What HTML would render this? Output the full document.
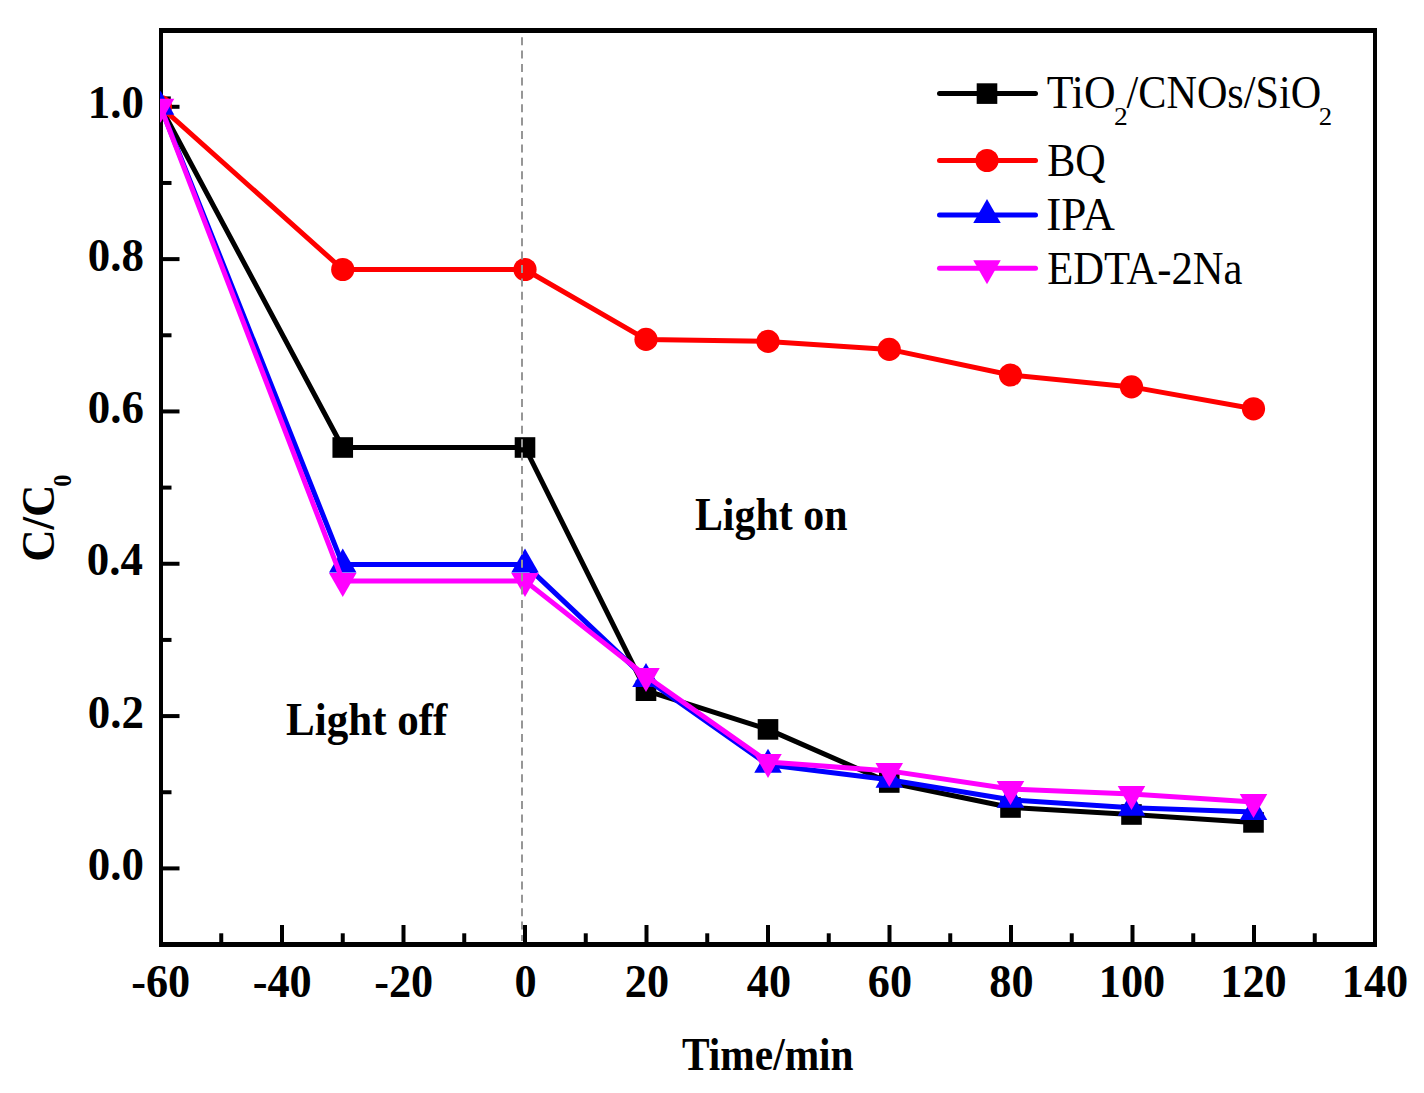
<!DOCTYPE html>
<html><head><meta charset="utf-8"><style>
html,body{margin:0;padding:0;background:#fff;overflow:hidden;}
svg{display:block;}
text{font-family:"Liberation Serif",serif;fill:#000;}
.b{font-weight:bold;}
</style></head><body>
<svg width="1424" height="1093" viewBox="0 0 1424 1093">
<defs><clipPath id="pc"><rect x="160" y="28" width="1216" height="919"/></clipPath></defs>

<g fill="#000">
<rect x="159" y="28" width="1218" height="5"/>
<rect x="159" y="942" width="1218" height="5"/>
<rect x="159" y="28" width="4" height="919"/>
<rect x="1373" y="28" width="4" height="919"/>
</g>
<g stroke="#000" stroke-width="4">
<line x1="161" y1="868.40" x2="179.5" y2="868.40"/>
<line x1="161" y1="792.24" x2="171.5" y2="792.24"/>
<line x1="161" y1="716.08" x2="179.5" y2="716.08"/>
<line x1="161" y1="639.92" x2="171.5" y2="639.92"/>
<line x1="161" y1="563.76" x2="179.5" y2="563.76"/>
<line x1="161" y1="487.60" x2="171.5" y2="487.60"/>
<line x1="161" y1="411.44" x2="179.5" y2="411.44"/>
<line x1="161" y1="335.28" x2="171.5" y2="335.28"/>
<line x1="161" y1="259.12" x2="179.5" y2="259.12"/>
<line x1="161" y1="182.96" x2="171.5" y2="182.96"/>
<line x1="161" y1="106.80" x2="179.5" y2="106.80"/>
<line x1="221.25" y1="944" x2="221.25" y2="933.3"/>
<line x1="282.00" y1="944" x2="282.00" y2="925"/>
<line x1="342.75" y1="944" x2="342.75" y2="933.3"/>
<line x1="403.50" y1="944" x2="403.50" y2="925"/>
<line x1="464.25" y1="944" x2="464.25" y2="933.3"/>
<line x1="525.00" y1="944" x2="525.00" y2="925"/>
<line x1="585.75" y1="944" x2="585.75" y2="933.3"/>
<line x1="646.50" y1="944" x2="646.50" y2="925"/>
<line x1="707.25" y1="944" x2="707.25" y2="933.3"/>
<line x1="768.00" y1="944" x2="768.00" y2="925"/>
<line x1="828.75" y1="944" x2="828.75" y2="933.3"/>
<line x1="889.50" y1="944" x2="889.50" y2="925"/>
<line x1="950.25" y1="944" x2="950.25" y2="933.3"/>
<line x1="1011.00" y1="944" x2="1011.00" y2="925"/>
<line x1="1071.75" y1="944" x2="1071.75" y2="933.3"/>
<line x1="1132.50" y1="944" x2="1132.50" y2="925"/>
<line x1="1193.25" y1="944" x2="1193.25" y2="933.3"/>
<line x1="1254.00" y1="944" x2="1254.00" y2="925"/>
<line x1="1314.75" y1="944" x2="1314.75" y2="933.3"/>
</g>
<g clip-path="url(#pc)">
<polyline points="160.50,106.70 342.75,447.50 525.00,447.50 646.00,690.70 768.00,729.40 889.25,782.50 1010.50,807.50 1131.50,814.50 1253.50,822.40" fill="none" stroke="#000" stroke-width="5" stroke-linejoin="round"/><rect x="150.20" y="96.40" width="20.6" height="20.6" fill="#000"/><rect x="332.45" y="437.20" width="20.6" height="20.6" fill="#000"/><rect x="514.70" y="437.20" width="20.6" height="20.6" fill="#000"/><rect x="635.70" y="680.40" width="20.6" height="20.6" fill="#000"/><rect x="757.70" y="719.10" width="20.6" height="20.6" fill="#000"/><rect x="878.95" y="772.20" width="20.6" height="20.6" fill="#000"/><rect x="1000.20" y="797.20" width="20.6" height="20.6" fill="#000"/><rect x="1121.20" y="804.20" width="20.6" height="20.6" fill="#000"/><rect x="1243.20" y="812.10" width="20.6" height="20.6" fill="#000"/>
<polyline points="160.50,106.70 342.75,269.50 525.00,269.50 646.00,339.40 768.00,341.40 889.25,349.40 1010.50,375.00 1131.50,386.90 1253.50,408.80" fill="none" stroke="#f00" stroke-width="5" stroke-linejoin="round"/><circle cx="160.50" cy="106.70" r="11.6" fill="#f00"/><circle cx="342.75" cy="269.50" r="11.6" fill="#f00"/><circle cx="525.00" cy="269.50" r="11.6" fill="#f00"/><circle cx="646.00" cy="339.40" r="11.6" fill="#f00"/><circle cx="768.00" cy="341.40" r="11.6" fill="#f00"/><circle cx="889.25" cy="349.40" r="11.6" fill="#f00"/><circle cx="1010.50" cy="375.00" r="11.6" fill="#f00"/><circle cx="1131.50" cy="386.90" r="11.6" fill="#f00"/><circle cx="1253.50" cy="408.80" r="11.6" fill="#f00"/>
<polyline points="160.50,106.70 342.75,564.60 525.00,564.60 646.00,678.90 768.00,764.80 889.25,779.70 1010.50,799.80 1131.50,807.80 1253.50,811.90" fill="none" stroke="#00f" stroke-width="5" stroke-linejoin="round"/><polygon points="160.50,90.70 174.25,114.70 146.75,114.70" fill="#00f"/><polygon points="342.75,548.60 356.50,572.60 329.00,572.60" fill="#00f"/><polygon points="525.00,548.60 538.75,572.60 511.25,572.60" fill="#00f"/><polygon points="646.00,662.90 659.75,686.90 632.25,686.90" fill="#00f"/><polygon points="768.00,748.80 781.75,772.80 754.25,772.80" fill="#00f"/><polygon points="889.25,763.70 903.00,787.70 875.50,787.70" fill="#00f"/><polygon points="1010.50,783.80 1024.25,807.80 996.75,807.80" fill="#00f"/><polygon points="1131.50,791.80 1145.25,815.80 1117.75,815.80" fill="#00f"/><polygon points="1253.50,795.90 1267.25,819.90 1239.75,819.90" fill="#00f"/>
<polyline points="160.50,106.70 342.75,580.90 525.00,580.90 646.00,676.00 768.00,761.90 889.25,770.90 1010.50,789.00 1131.50,794.00 1253.50,802.00" fill="none" stroke="#f0f" stroke-width="5" stroke-linejoin="round"/><polygon points="160.50,122.70 174.25,98.70 146.75,98.70" fill="#f0f"/><polygon points="342.75,596.90 356.50,572.90 329.00,572.90" fill="#f0f"/><polygon points="525.00,596.90 538.75,572.90 511.25,572.90" fill="#f0f"/><polygon points="646.00,692.00 659.75,668.00 632.25,668.00" fill="#f0f"/><polygon points="768.00,777.90 781.75,753.90 754.25,753.90" fill="#f0f"/><polygon points="889.25,786.90 903.00,762.90 875.50,762.90" fill="#f0f"/><polygon points="1010.50,805.00 1024.25,781.00 996.75,781.00" fill="#f0f"/><polygon points="1131.50,810.00 1145.25,786.00 1117.75,786.00" fill="#f0f"/><polygon points="1253.50,818.00 1267.25,794.00 1239.75,794.00" fill="#f0f"/>
</g>
<line x1="522" y1="37.2" x2="522" y2="941" stroke="#969696" stroke-width="2" stroke-dasharray="8 5.4"/>
<g fill="#000">
<text transform="translate(87.68,880.00) scale(0.99,1)" font-size="45.4" font-weight="bold">0.0</text>
<text transform="translate(87.68,727.68) scale(0.99,1)" font-size="45.4" font-weight="bold">0.2</text>
<text transform="translate(86.71,575.36) scale(0.99,1)" font-size="45.4" font-weight="bold">0.4</text>
<text transform="translate(87.68,423.04) scale(0.99,1)" font-size="45.4" font-weight="bold">0.6</text>
<text transform="translate(87.68,270.72) scale(0.99,1)" font-size="45.4" font-weight="bold">0.8</text>
<text transform="translate(87.68,118.40) scale(0.99,1)" font-size="45.4" font-weight="bold">1.0</text>
<text transform="translate(131.17,997) scale(0.975,1)" font-size="45.4" font-weight="bold">-60</text>
<text transform="translate(252.67,997) scale(0.975,1)" font-size="45.4" font-weight="bold">-40</text>
<text transform="translate(374.17,997) scale(0.975,1)" font-size="45.4" font-weight="bold">-20</text>
<text transform="translate(514.43,997) scale(0.975,1)" font-size="45.4" font-weight="bold">0</text>
<text transform="translate(624.87,997) scale(0.975,1)" font-size="45.4" font-weight="bold">20</text>
<text transform="translate(746.85,997) scale(0.975,1)" font-size="45.4" font-weight="bold">40</text>
<text transform="translate(867.87,997) scale(0.975,1)" font-size="45.4" font-weight="bold">60</text>
<text transform="translate(989.37,997) scale(0.975,1)" font-size="45.4" font-weight="bold">80</text>
<text transform="translate(1098.84,997) scale(0.975,1)" font-size="45.4" font-weight="bold">100</text>
<text transform="translate(1220.34,997) scale(0.975,1)" font-size="45.4" font-weight="bold">120</text>
<text transform="translate(1341.84,997) scale(0.975,1)" font-size="45.4" font-weight="bold">140</text>
<text transform="translate(682.00,1070.00) scale(0.8995,1)" font-size="46" font-weight="bold">Time/min</text>
<text transform="translate(694.89,530.20) scale(0.9114,1)" font-size="46" font-weight="bold">Light on</text>
<text transform="translate(286.06,735.00) scale(0.9355,1)" font-size="46" font-weight="bold">Light off</text>
<g transform="translate(54.4,561.85) rotate(-90)"><text transform="scale(0.9743,1)" font-size="46" font-weight="bold">C/C</text><text transform="translate(75.08,16.8) scale(0.9727,1)" font-size="25" font-weight="bold">0</text></g>
<line x1="939.5" y1="93.6" x2="1035.5" y2="93.6" stroke="#000" stroke-width="5" stroke-linecap="round"/>
<rect x="976.70" y="83.30" width="20.6" height="20.6" fill="#000"/>
<line x1="939.5" y1="160.5" x2="1035.5" y2="160.5" stroke="#f00" stroke-width="5" stroke-linecap="round"/>
<circle cx="987.00" cy="160.50" r="11.6" fill="#f00"/>
<line x1="939.5" y1="214.9" x2="1035.5" y2="214.9" stroke="#00f" stroke-width="5" stroke-linecap="round"/>
<polygon points="987.00,198.90 1000.75,222.90 973.25,222.90" fill="#00f"/>
<line x1="939.5" y1="268.3" x2="1035.5" y2="268.3" stroke="#f0f" stroke-width="5" stroke-linecap="round"/>
<polygon points="987.00,284.30 1000.75,260.30 973.25,260.30" fill="#f0f"/>
<text transform="translate(1046.65,108.00) scale(0.9514,1)" font-size="46" font-weight="normal">TiO</text>
<text transform="translate(1113.90,124.90) scale(1.1000,1)" font-size="25" font-weight="normal">2</text>
<text transform="translate(1126.50,108.00) scale(0.9181,1)" font-size="46" font-weight="normal">/CNOs/SiO</text>
<text transform="translate(1318.83,124.90) scale(1.0700,1)" font-size="25" font-weight="normal">2</text>
<text transform="translate(1047.18,175.80) scale(0.9161,1)" font-size="46" font-weight="normal">BQ</text>
<text transform="translate(1046.14,230.00) scale(0.9824,1)" font-size="46" font-weight="normal">IPA</text>
<text transform="translate(1047.17,283.80) scale(0.9263,1)" font-size="46" font-weight="normal">EDTA-2Na</text>
</g>
</svg></body></html>
